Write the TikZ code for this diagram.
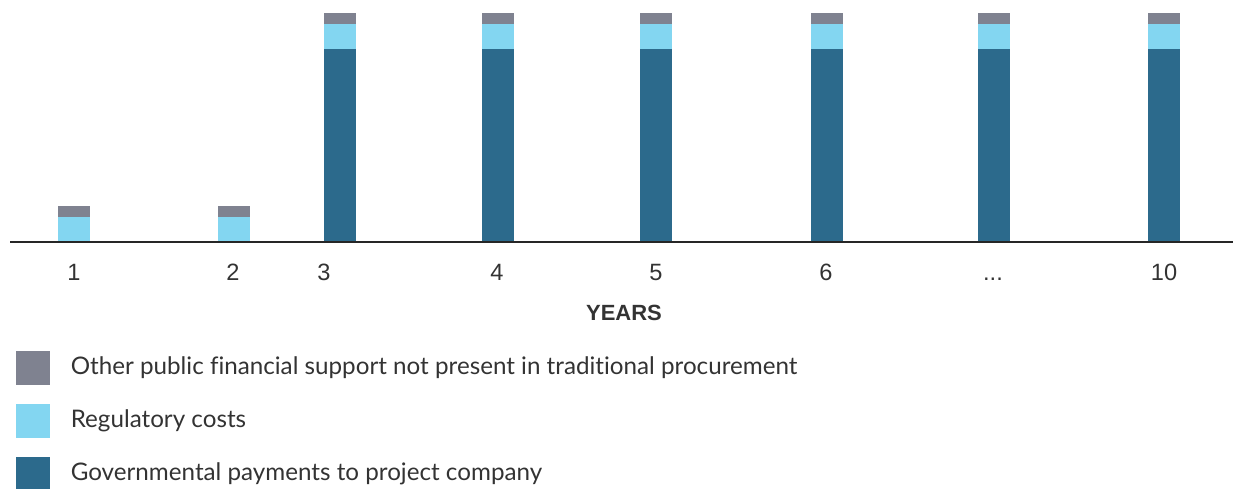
\documentclass[tikz,border=0pt]{standalone}
\usepackage{fontspec}
\setmainfont[Ligatures=NoCommon]{Lato}
\newfontfamily\numfont{Liberation Sans}
\usepackage{tikz}
\usetikzlibrary{positioning}
\definecolor{othergray}{HTML}{7F8290}
\definecolor{regcyan}{HTML}{83D6F1}
\definecolor{govblue}{HTML}{2C6A8C}
\definecolor{txtgray}{HTML}{333333}
\tikzstyle{other} = [fill=othergray]
\tikzstyle{reg} = [fill=regcyan]
\tikzstyle{gov} = [fill=govblue]
\tikzstyle{axisline} = [line width=1pt, draw=black!85]
\tikzstyle{yearlabel} = [text=txtgray, font=\numfont\fontsize{11.8}{14}\selectfont, anchor=base, inner sep=0pt]
\tikzstyle{legendbox} = [rectangle, minimum width=17pt, minimum height=17pt, inner sep=0pt]
\tikzstyle{legendtext} = [text=txtgray, font=\fontsize{12.1}{14}\selectfont, inner sep=0pt, anchor=west]

\begin{document}
\begin{tikzpicture}[x=0.5pt, y=-0.5pt]
\useasboundingbox (0,0) rectangle (1233,488);

% small bars, years 1 and 2
\foreach \x in {58,218} {
  \fill [reg] (\x,217) rectangle (\x+32,242);
  \fill [other] (\x,206) rectangle (\x+32,217);
}
% full bars
\foreach \x in {324,482,640,811,978,1148} {
  \fill [gov] (\x,49) rectangle (\x+32,242);
  \fill [reg] (\x,24) rectangle (\x+32,49);
  \fill [other] (\x,13) rectangle (\x+32,24);
}

\coordinate (axl) at (10,242);
\coordinate (axr) at (1233,242);
\draw [axisline] (axl) -- (axr);

\node (y1) [yearlabel] at (74,280) {1};
\node (y2) [yearlabel] at (233,280) {2};
\node (y3) [yearlabel] at (324,280) {3};
\node (y4) [yearlabel] at (497,280) {4};
\node (y5) [yearlabel] at (656,280) {5};
\node (y6) [yearlabel] at (826,280) {6};
\node (ydots) [yearlabel] at (993,280) {...};
\node (y10) [yearlabel] at (1164,280) {10};
\node (years) [yearlabel, font=\numfont\bfseries\fontsize{11}{13}\selectfont] at (624,320) {YEARS};

\node (lgother) [legendbox, other] at (33,368) {};
\node (lgreg) [legendbox, reg] at (33,421) {};
\node (lggov) [legendbox, gov] at (33,474) {};
\node (txother) [legendtext, right=10pt of lgother] {Other public financial support not present in traditional procurement};
\node (txreg) [legendtext, right=10pt of lgreg] {Regulatory costs};
\node (txgov) [legendtext, right=10pt of lggov] {Governmental payments to project company};
\end{tikzpicture}
\end{document}
